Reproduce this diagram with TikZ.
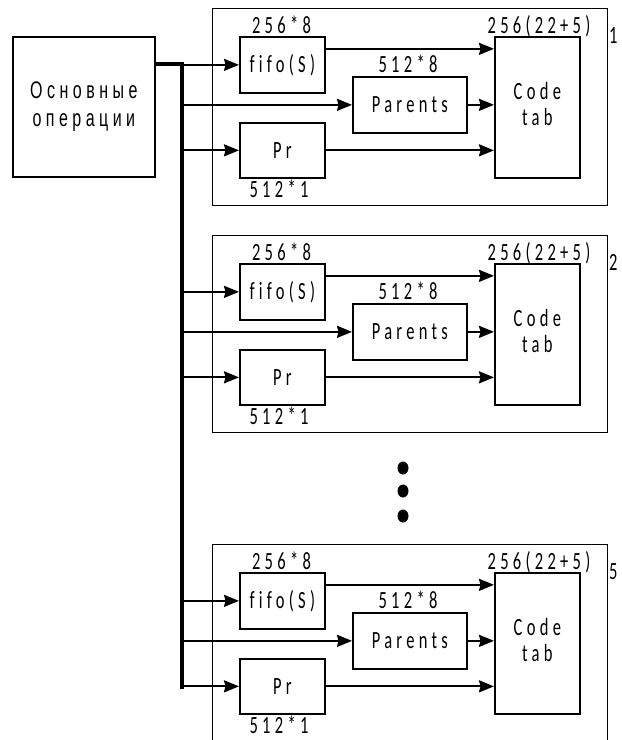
\documentclass[tikz,border=0pt]{standalone}
\usepackage{fontspec}
\usepackage{graphicx}
\usetikzlibrary{arrows.meta}
\newfontfamily\cf[LetterSpace=26,Ligatures=NoCommon]{Carlito}
\newfontfamily\rf[LetterSpace=28]{Liberation Sans}
\newcommand{\vs}[1]{\scalebox{1}[1.5]{#1}}
\begin{document}
\begin{tikzpicture}[x=1pt,y=-1pt,
  box/.style={draw, line width=1.7pt, inner sep=0pt, anchor=north west,
              font=\cf\fontsize{16.5}{17.3}\selectfont},
  grp/.style={draw, line width=1.3pt, inner sep=0pt, anchor=north west},
  arr/.style={line width=2pt, -{Stealth[length=15pt,width=12pt,inset=1.5pt]}},
  lbl/.style={inner sep=0pt, anchor=base, font=\cf\fontsize{16.5}{18}\selectfont},
  bus/.style={line width=4.5pt}
]
\useasboundingbox (0,0) rectangle (622,740);

\node[box, minimum width=142pt, minimum height=140pt,
      font=\rf\fontsize{16}{18.7}\selectfont] (main) at (12,36)
  {\vs{\begin{tabular}{@{}c@{}}Основные\\операции\end{tabular}}};

\coordinate (bus) at (182,64);

\foreach \i/\dy/\lab/\gh in {1/0/1/197, 2/227/2/197, 3/536/5/220}{
  \begin{scope}[shift={(0,\dy)}]
    \node[grp, minimum width=395pt, minimum height=\gh pt] (g\i) at (212,8) {};
    \node[box, minimum width=85pt, minimum height=56pt] (f\i) at (239,36) {\vs{fifo(S)}};
    \node[box, minimum width=85pt, minimum height=55pt] (r\i) at (239,122) {\vs{Pr}};
    \node[box, minimum width=114pt, minimum height=56pt] (p\i) at (352,76) {\vs{Parents}};
    \node[box, minimum width=85pt, minimum height=141pt] (c\i) at (494,36)
      {\vs{\begin{tabular}{@{}c@{}}Code\\tab\end{tabular}}};
    \node[lbl] (lf\i) at (281.5,33) {\vs{256*8}};
    \node[lbl] (lp\i) at (408,72) {\vs{512*8}};
    \node[lbl] (lr\i) at (279,197) {\vs{512*1}};
    \node[lbl] (lc\i) at (539,33) {\vs{256(22+5)}};
    \node[lbl, anchor=base west] (n\i) at (609,43) {\vs{\lab}};
    \coordinate (fa\i) at ([yshift=16pt]f\i.east);
  \end{scope}
  \draw[arr] (bus |- f\i.west) -- (f\i.west);
  \draw[arr] (bus |- p\i.west) -- (p\i.west);
  \draw[arr] (bus |- r\i.west) -- (r\i.west);
  \draw[arr] (fa\i) -- (c\i.west |- fa\i);
  \draw[arr] (p\i.east) -- (c\i.west |- p\i.east);
  \draw[arr] (r\i.east) -- (c\i.west |- r\i.east);
}

\draw[bus] (main.east |- bus) -- (bus) -- ([yshift=-2.25pt]bus |- r3.west);

\fill (403,468) ellipse [x radius=5.5pt, y radius=6.5pt];
\fill (403,491) ellipse [x radius=5.5pt, y radius=6.5pt];
\fill (403,516) ellipse [x radius=5.5pt, y radius=6.5pt];
\end{tikzpicture}
\end{document}
